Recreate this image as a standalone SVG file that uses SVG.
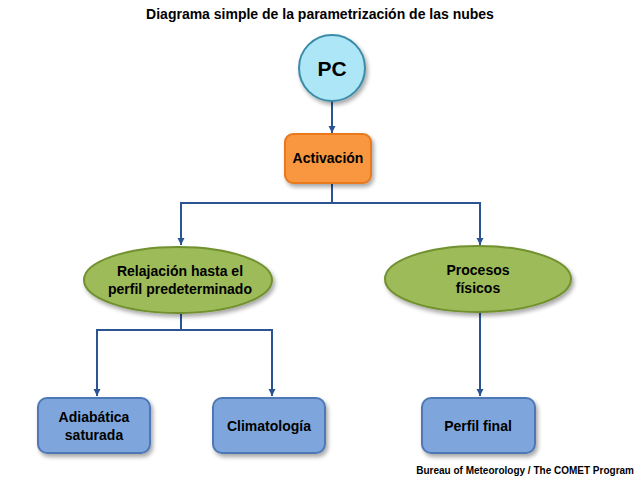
<svg xmlns="http://www.w3.org/2000/svg" width="640" height="480" viewBox="0 0 640 480">
<defs>
<filter id="sh" x="-20%" y="-20%" width="150%" height="150%">
<feGaussianBlur in="SourceAlpha" stdDeviation="2"/>
<feOffset dx="2" dy="3" result="b"/>
<feComponentTransfer><feFuncA type="linear" slope="0.35"/></feComponentTransfer>
<feMerge><feMergeNode/><feMergeNode in="SourceGraphic"/></feMerge>
</filter>
<marker id="arr" viewBox="0 0 10 10" refX="10" refY="5" markerWidth="7" markerHeight="9" markerUnits="userSpaceOnUse" orient="auto">
<path d="M0,0 L10,5 L0,10 Z" fill="#2b5592"/>
</marker>
</defs>
<style>
text{font-family:"Liberation Sans",Arial,sans-serif;font-weight:bold;fill:#000;text-anchor:middle}
.c{fill:none;stroke:#2b5592;stroke-width:2}
.box{fill:#7ea6dc;stroke:#4e78b5;stroke-width:2}
.ell{fill:#9dbb59;stroke:#71912f;stroke-width:2}
.t{font-size:14px}
</style>
<rect width="640" height="480" fill="#fff"/>
<text x="320" y="19" style="font-size:14px">Diagrama simple de la parametrización de las nubes</text>
<g id="connectors">
<path class="c" d="M332,101 V133" marker-end="url(#arr)"/>
<path class="c" d="M332,183 V203 H181 V245" marker-end="url(#arr)"/>
<path class="c" d="M332,203 H480 V245" marker-end="url(#arr)"/>
<path class="c" d="M181,313 V330 H97 V396" marker-end="url(#arr)"/>
<path class="c" d="M181,330 H272 V396" marker-end="url(#arr)"/>
<path class="c" d="M480,312 V396" marker-end="url(#arr)"/>
</g>
<g id="pc">
<circle cx="332" cy="68" r="33" fill="#ade6f6" stroke="#3a8ca8" stroke-width="2" filter="url(#sh)"/>
<text x="332" y="76" style="font-size:21px">PC</text>
</g>
<g id="activacion">
<rect x="285" y="134" width="86" height="49" rx="8" fill="#f9973f" stroke="#e8791d" stroke-width="2" filter="url(#sh)"/>
<text x="328" y="163" class="t">Activación</text>
</g>
<g id="relajacion">
<ellipse cx="178" cy="280" rx="94" ry="33" class="ell" filter="url(#sh)"/>
<text x="180" y="276" class="t">Relajación hasta el</text>
<text x="180" y="294" class="t">perfil predeterminado</text>
</g>
<g id="procesos">
<ellipse cx="478" cy="279" rx="93" ry="33" class="ell" filter="url(#sh)"/>
<text x="478" y="275" class="t">Procesos</text>
<text x="478" y="293" class="t">físicos</text>
</g>
<g id="adiabatica">
<rect x="38" y="398" width="112" height="55" rx="9" class="box" filter="url(#sh)"/>
<text x="94" y="422" class="t">Adiabática</text>
<text x="94" y="440" class="t">saturada</text>
</g>
<g id="climatologia">
<rect x="213" y="398" width="112" height="55" rx="9" class="box" filter="url(#sh)"/>
<text x="269" y="431" class="t">Climatología</text>
</g>
<g id="perfilfinal">
<rect x="422" y="398" width="113" height="55" rx="9" class="box" filter="url(#sh)"/>
<text x="478" y="431" class="t">Perfil final</text>
</g>
<text x="634" y="474" style="font-size:10px;text-anchor:end">Bureau of Meteorology / The COMET Program</text>
</svg>
